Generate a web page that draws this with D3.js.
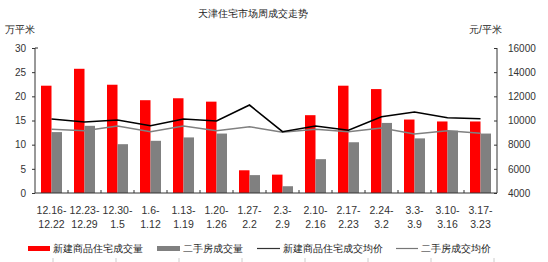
<!DOCTYPE html>
<html><head><meta charset="utf-8">
<script src="https://cdn.jsdelivr.net/npm/d3@7"></script>
<style>body{margin:0;background:#fff}svg{display:block}text{font-family:"Liberation Sans","DejaVu Sans",sans-serif}</style>
</head><body><svg id="c" width="548" height="262"></svg>
<script>
const catTop = ["12.16-","12.23-","12.30-","1.6-","1.13-","1.20-","1.27-","2.3-","2.10-","2.17-","2.24-","3.3-","3.10-","3.17-"];
const catBot = ["12.22","12.29","1.5","1.12","1.19","1.26","2.2","2.9","2.16","2.23","3.2","3.9","3.16","3.23"];
const newVol = [22.2,25.7,22.4,19.2,19.6,18.9,4.7,3.8,16.1,22.2,21.5,15.2,14.8,14.8];
const usedVol = [12.6,13.9,10.1,10.8,11.5,12.3,3.7,1.4,7.0,10.5,14.5,11.3,12.9,12.3];
const newPrice = [10120,9880,10040,9570,10120,9960,11280,9070,9540,9190,10310,10700,10230,10150];
const usedPrice = [9270,9160,9540,9070,9540,9160,9490,9020,9270,9070,9380,8880,9160,8940];
const leftTicks = [0,5,10,15,20,25,30];
const rightTicks = [4000,6000,8000,10000,12000,14000,16000];
const seriesNames = ["新建商品住宅成交量","二手房成交量","新建商品住宅成交均价","二手房成交均价"];
const title = "天津住宅市场周成交走势";

const svg = d3.select("#c");
const L = 35, R = 497, T = 48, B = 193;
const idx = d3.range(catTop.length);
const x = d3.scaleBand().domain(idx).range([L, R]);
const yL = d3.scaleLinear().domain([0,30]).range([B,T]);
const yR = d3.scaleLinear().domain([4000,16000]).range([B,T]);
const bw = 10.5;

svg.append("text").attr("x",253).attr("y",17).attr("text-anchor","middle").attr("font-size",10).attr("fill","#222").text(title);
svg.append("text").attr("x",5).attr("y",33).attr("font-size",10).attr("fill","#222").text("万平米");
svg.append("text").attr("x",469).attr("y",33).attr("font-size",10).attr("fill","#222").text("元/平米");

// bars
svg.append("g").selectAll("rect").data(newVol).join("rect")
  .attr("x",(d,i)=>x(i)+x.bandwidth()/2-bw).attr("width",bw)
  .attr("y",d=>yL(d)).attr("height",d=>B-yL(d)).attr("fill","#FF0000");
svg.append("g").selectAll("rect").data(usedVol).join("rect")
  .attr("x",(d,i)=>x(i)+x.bandwidth()/2).attr("width",bw)
  .attr("y",d=>yL(d)).attr("height",d=>B-yL(d)).attr("fill","#808080");

// lines
const cx = i => x(i)+x.bandwidth()/2;
svg.append("path").datum(usedPrice).attr("fill","none").attr("stroke","#808080").attr("stroke-width",1.5)
  .attr("d",d3.line().x((d,i)=>cx(i)).y(d=>yR(d)));
svg.append("path").datum(newPrice).attr("fill","none").attr("stroke","#000").attr("stroke-width",1.6)
  .attr("d",d3.line().x((d,i)=>cx(i)).y(d=>yR(d)));

// axes
const axL = svg.append("g").attr("transform",`translate(${L},0)`)
  .call(d3.axisLeft(yL).tickValues(leftTicks).tickSize(3).tickPadding(6));
axL.select(".domain").attr("d",`M0,${T}V${B}`).attr("stroke","#333");
axL.selectAll(".tick line").attr("stroke","#333");
axL.selectAll("text").attr("font-size",10).attr("fill","#333");
svg.append("line").attr("x1",L).attr("x2",L+3).attr("y1",T).attr("y2",T).attr("stroke","#333");

const axR = svg.append("g").attr("transform",`translate(${R},0)`)
  .call(d3.axisRight(yR).tickValues(rightTicks).tickFormat(d3.format("d")).tickSize(0).tickPadding(11));
axR.select(".domain").attr("d",`M0,${T}V${B}`).attr("stroke","#333");
axR.selectAll(".tick").append("line").attr("x1",-3).attr("x2",0).attr("stroke","#333");
axR.selectAll("text").attr("font-size",10).attr("fill","#333");

// x axis
svg.append("line").attr("x1",L).attr("x2",R).attr("y1",B).attr("y2",B).attr("stroke","#333");
svg.append("g").selectAll("line").data(idx.slice(1)).join("line")
  .attr("x1",d=>x(d)).attr("x2",d=>x(d)).attr("y1",B).attr("y2",B-3).attr("stroke","#333");
const xl = svg.append("g").selectAll("text").data(idx).join("text")
  .attr("x",d=>cx(d)).attr("text-anchor","middle").attr("font-size",10.5).attr("fill","#333");
xl.append("tspan").attr("x",d=>cx(d)).attr("y",214).text(d=>catTop[d]);
xl.append("tspan").attr("x",d=>cx(d)).attr("y",228).text(d=>catBot[d]);

// legend
const lg = [
  {x:28,w:22,type:"rect",c:"#FF0000"},
  {x:157,w:23,type:"rect",c:"#808080"},
  {x:257,w:23,type:"line",c:"#333"},
  {x:396,w:22,type:"line",c:"#777"}
];
lg.forEach((g,i)=>{
  if(g.type==="rect") svg.append("rect").attr("x",g.x).attr("y",246).attr("width",g.w).attr("height",5).attr("fill",g.c);
  else svg.append("line").attr("x1",g.x).attr("x2",g.x+g.w).attr("y1",248.5).attr("y2",248.5).attr("stroke",g.c).attr("stroke-width",1.2);
  svg.append("text").attr("x",g.x+g.w+3).attr("y",252).attr("font-size",9.5).attr("fill","#222").text(seriesNames[i]);
});

// faint bottom ticks
svg.append("g").selectAll("line").data(d3.range(8)).join("line")
  .attr("x1",d=>53+d*63).attr("x2",d=>53+d*63).attr("y1",258).attr("y2",262).attr("stroke","#ccc");
</script></body></html>
